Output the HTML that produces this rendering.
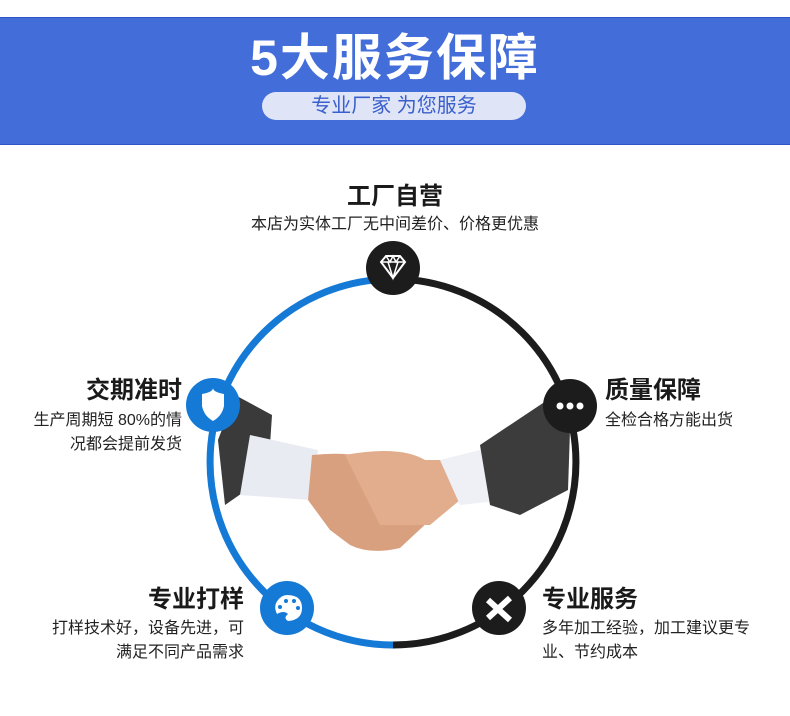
<!DOCTYPE html>
<html><head><meta charset="utf-8"><style>
body{margin:0;width:790px;height:716px;background:#fff;position:relative;overflow:hidden;font-family:"Liberation Sans","Noto Sans CJK SC",sans-serif;}
.band{position:absolute;left:0;top:17px;width:790px;height:126px;background:#436ed9;border-top:1px solid #2f55c8;border-bottom:1px solid #2f55c8;}
.title{position:absolute;left:0;width:790px;top:28px;text-align:center;color:#fff;font-size:50px;font-weight:bold;letter-spacing:2px;line-height:60px;}
.pill{position:absolute;left:262px;top:92px;width:264px;height:28px;border-radius:14px;background:#dfe5f7;color:#3a5fcc;font-size:20px;line-height:28px;text-align:center;}
.h{position:absolute;font-size:24px;font-weight:bold;color:#1a1a1a;line-height:30px;white-space:nowrap;}
.s{position:absolute;font-size:16px;color:#222;line-height:24px;white-space:nowrap;}
</style></head><body>
<div class="band"></div>
<div class="title">5大服务保障</div>
<div class="pill">专业厂家 为您服务</div>

<div class="h" style="left:0;width:790px;text-align:center;top:182px;">工厂自营</div>
<div class="s" style="left:0;width:790px;text-align:center;top:213px;">本店为实体工厂无中间差价、价格更优惠</div>

<div class="h" style="right:608px;top:376px;text-align:right;">交期准时</div>
<div class="s" style="right:608px;top:409px;text-align:right;">生产周期短 80%的情<br>况都会提前发货</div>

<div class="h" style="left:605px;top:376px;">质量保障</div>
<div class="s" style="left:605px;top:409px;">全检合格方能出货</div>

<div class="h" style="right:546px;top:585px;text-align:right;">专业打样</div>
<div class="s" style="right:546px;top:617px;text-align:right;">打样技术好，设备先进，可<br>满足不同产品需求</div>

<div class="h" style="left:542px;top:585px;">专业服务</div>
<div class="s" style="left:542px;top:617px;">多年加工经验，加工建议更专<br>业、节约成本</div>

<svg style="position:absolute;left:0;top:0" width="790" height="716">
<path d="M393 279 A183 183 0 0 0 393 645" fill="none" stroke="#1579d6" stroke-width="7"/>
<path d="M393 279 A183 183 0 0 1 393 645" fill="none" stroke="#1c1c1c" stroke-width="7"/>
<!-- arms/hands -->
<path d="M235 395 L272 415 L268 475 L225 505 L218 440 Z" fill="#3a3a3a"/>
<path d="M250 435 L318 450 L310 500 L240 495 Z" fill="#e8ecf2"/>
<path d="M312 455 Q360 450 390 465 L430 480 Q445 500 430 520 L400 548 Q370 555 350 545 L330 530 L308 500 Z" fill="#d9a080"/>
<path d="M345 455 Q400 445 425 460 L465 460 L460 500 L430 525 L380 525 Z" fill="#e2ad8c"/>
<path d="M440 460 L500 445 L505 500 L460 505 Z" fill="#eef0f6"/>
<path d="M480 445 L555 395 L570 430 L568 490 L520 515 L490 505 Z" fill="#3c3c3c"/>
<!-- icons -->
<circle cx="393" cy="268" r="27" fill="#1c1c1c"/>
<path d="M381 262 L386 256 L400 256 L405 262 L393 278 Z" fill="none" stroke="#fff" stroke-width="2"/>
<path d="M381 262 L405 262 M388 262 L393 278 L398 262 M386 256 L390 262 L393 256 L396 262 L400 256" fill="none" stroke="#fff" stroke-width="1.5"/>
<circle cx="213" cy="405" r="27" fill="#1579d6"/>
<path d="M202 394 Q213 392 213 388 Q213 392 224 394 L224 406 Q222 416 213 421 Q204 416 202 406 Z" fill="#fff"/>
<circle cx="570" cy="406" r="27" fill="#1c1c1c"/>
<circle cx="560" cy="406" r="3.5" fill="#fff"/><circle cx="570" cy="406" r="3.5" fill="#fff"/><circle cx="580" cy="406" r="3.5" fill="#fff"/>
<circle cx="287" cy="608" r="27" fill="#1579d6"/>
<path d="M287 595 Q302 595 302 608 Q302 620 288 621 Q283 618 288 614 Q284 610 277 614 Q273 606 278 600 Q282 595 287 595 Z" fill="#fff"/>
<circle cx="280" cy="607" r="2" fill="#1579d6"/><circle cx="286" cy="601" r="2" fill="#1579d6"/><circle cx="294" cy="601" r="2" fill="#1579d6"/><circle cx="298" cy="608" r="2" fill="#1579d6"/>
<circle cx="499" cy="608" r="27" fill="#1c1c1c"/>
<path d="M488 600 L510 620 M510 598 L488 618" stroke="#fff" stroke-width="6"/>
</svg>
</body></html>
